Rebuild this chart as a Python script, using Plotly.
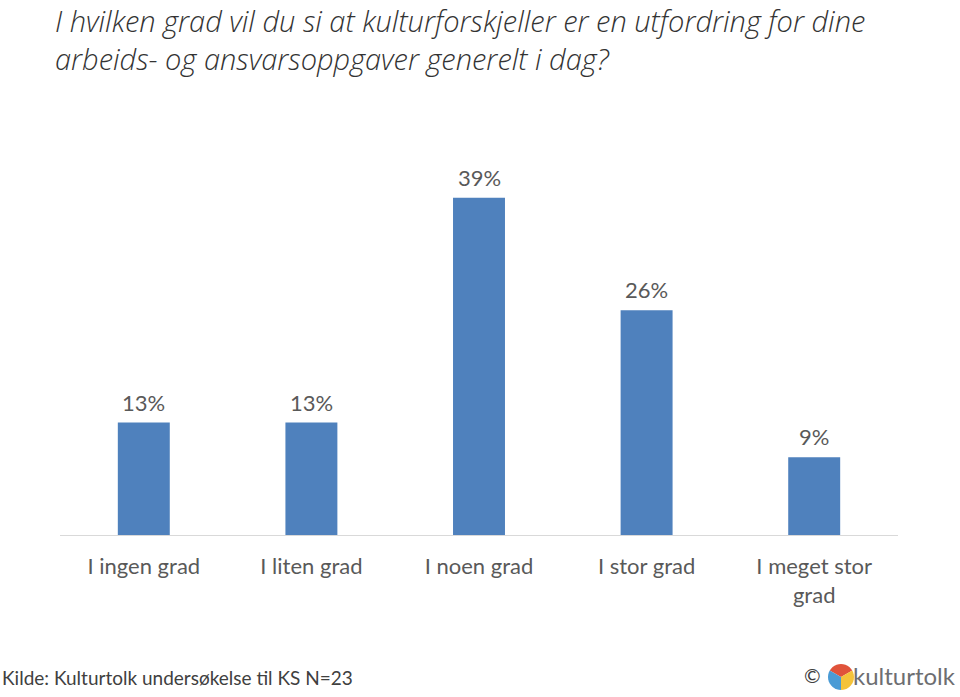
import math
import plotly.graph_objects as go

categories = ["I ingen grad", "I liten grad", "I noen grad", "I stor grad", "I meget stor<br>grad"]
values = [13, 13, 39, 26, 9]
labels = ["13%", "13%", "39%", "26%", "9%"]

title_text = "I hvilken grad vil du si at kulturforskjeller er en utfordring for dine<br>arbeids- og ansvarsoppgaver generelt i dag?"
source_text = "Kilde: Kulturtolk undersøkelse til KS N=23"

FONT = "Lato"
fig = go.Figure()
fig.add_trace(go.Bar(
    x=categories, y=values,
    marker=dict(color="#4F81BD", line=dict(width=0)),
    cliponaxis=False, width=0.31,
))
for c, v, t in zip(categories, values, labels):
    fig.add_annotation(x=c, y=v, text=t, showarrow=False, yanchor="bottom", yshift=5,
                       font=dict(family=FONT, size=22, color="#595959"))

fig.update_layout(
    width=960, height=697,
    margin=dict(l=60, r=62, t=146, b=162),
    paper_bgcolor="white", plot_bgcolor="white",
    showlegend=False,
    font=dict(family=FONT, color="#595959"),
    xaxis=dict(showline=True, linecolor="#D9D9D9", linewidth=1, ticks="",
               tickfont=dict(family=FONT, size=22, color="#595959"),
               ticklabelstandoff=12, showgrid=False),
    yaxis=dict(range=[0, 45], visible=False, showgrid=False),
)

fig.add_annotation(text="<i>" + title_text + "</i>", xref="paper", yref="paper",
                   x=0, xshift=-7, y=1, yshift=147, xanchor="left", yanchor="top",
                   align="left", showarrow=False,
                   font=dict(family="Open Sans", size=29, color="#333333", weight=300))
fig.add_annotation(text=source_text, xref="paper", yref="paper", x=0, xshift=-60,
                   y=0, yshift=-142, xanchor="left", yanchor="middle", showarrow=False,
                   font=dict(family=FONT, size=19, color="#404040"))
fig.add_annotation(text="©", xref="paper", yref="paper", x=1, xshift=-75,
                   y=0, yshift=-140, xanchor="right", yanchor="middle", showarrow=False,
                   font=dict(family=FONT, size=20, color="#404040"))
fig.add_annotation(text="kulturtolk", xref="paper", yref="paper", x=1, xshift=60,
                   y=0, yshift=-140, xanchor="right", yanchor="middle", showarrow=False,
                   font=dict(family=FONT, size=24, color="#6D6E71"))

# logo swirl (three coloured wedges), positioned in paper coordinates
cx, cy, r = 841, 677, 13
for a0, a1, col in [(30, 150, "#E0533B"), (150, 270, "#4A9BD5"), (270, 390, "#F4C33A")]:
    pts = [(cx, cy)]
    for i in range(13):
        a = math.radians(a0 + (a1 - a0) * i / 12)
        pts.append((cx + r * math.cos(a), cy - r * math.sin(a)))
    conv = [((x - 60) / 838, (535 - y) / 389) for x, y in pts]
    path = "M " + " L ".join(f"{x:.5f},{y:.5f}" for x, y in conv) + " Z"
    fig.add_shape(type="path", path=path, xref="paper", yref="paper",
                  fillcolor=col, line=dict(width=0))

fig.write_html("out.html")
